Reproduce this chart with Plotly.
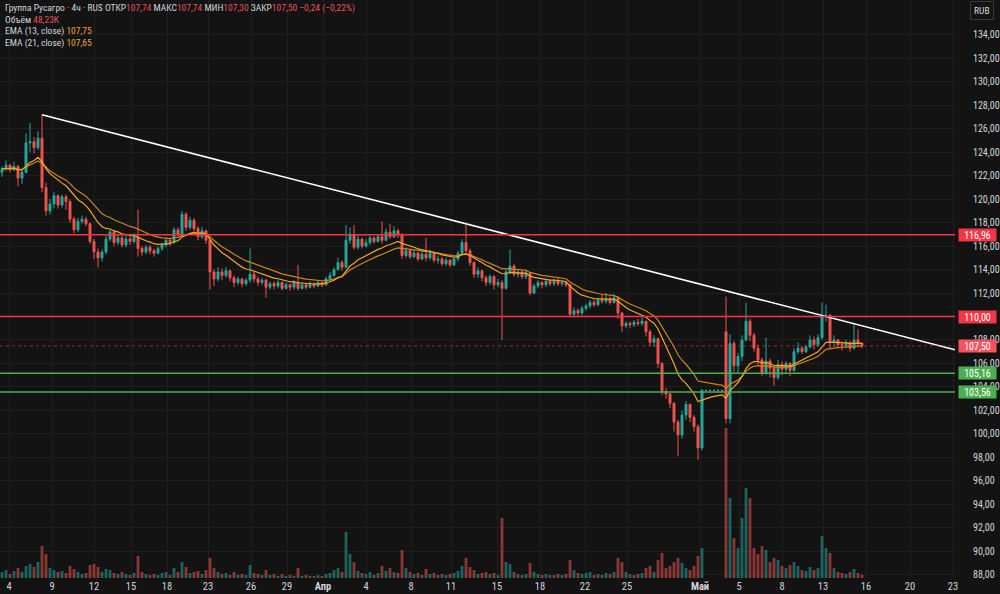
import plotly.graph_objects as go

# ---------------- data (4h candles, Группа Русагро) ----------------
first_open = 122.3
open_gaps = {181: 108.7}

closes = [
    122.6, 122.9, 122.5, 122.8, 121.8, 122.3, 124.8, 124.9, 124.4, 125.2,
    121.0, 119.0, 119.6, 120.3, 119.5, 120.2, 119.8, 118.3, 117.4, 118.1,
    118.3, 117.9, 116.4, 115.5, 115.0, 115.5, 116.6, 117.2, 116.3, 116.7,
    116.1, 116.6, 116.4, 116.8, 115.8, 115.5, 115.9, 115.6, 115.4, 115.8,
    116.1, 116.5, 116.3, 117.4, 117.0, 118.7, 117.6, 118.2, 117.5, 116.8,
    117.3, 116.5, 113.8, 113.2, 113.8, 113.5, 113.9, 113.3, 112.9, 113.2,
    112.8, 113.1, 113.6, 113.2, 112.9, 113.1, 112.5, 112.8, 112.6, 112.9,
    112.4, 112.7, 112.5, 112.9, 112.4, 112.7, 112.5, 112.8, 112.6, 112.9,
    112.7, 113.2, 113.5, 114.0, 114.6, 114.2, 116.5, 117.0, 115.9, 116.6,
    116.0, 116.3, 116.7, 116.4, 116.8, 116.5, 117.2, 116.8, 117.3, 117.0,
    115.2, 115.6, 115.1, 115.4, 114.9, 115.3, 115.0, 115.4, 114.8, 114.9,
    114.5, 114.8, 114.4, 114.9, 115.4, 116.3, 115.6, 114.6, 113.6, 113.9,
    113.3, 112.9, 113.4, 112.7, 112.9, 112.4, 113.8, 114.3, 113.6, 113.8,
    113.4, 113.7, 112.0, 112.6, 112.9, 112.7, 113.0, 112.8, 113.0, 112.8,
    112.9, 112.7, 110.2, 110.5, 110.3, 110.7, 110.9, 111.2, 111.0, 111.4,
    111.3, 111.5, 111.2, 111.6, 110.3, 109.2, 109.4, 109.3, 109.5, 109.4,
    109.6, 108.7, 107.8, 108.1, 106.0, 103.6, 103.4, 102.6, 101.0, 99.9,
    101.6, 102.5, 101.4, 100.6, 98.8, 103.7, 103.7, 103.7, 103.7, 103.7,
    103.7, 101.3, 107.7, 105.8, 106.6, 108.0, 109.6, 108.4, 107.3, 106.3,
    105.2, 106.2, 105.6, 104.8, 105.9, 105.5, 106.0, 105.4, 107.0, 107.3,
    107.0, 107.4, 108.0, 107.6, 108.2, 110.0, 110.1, 107.8, 108.0, 107.6,
    107.5, 107.8, 107.3, 108.0, 107.74, 107.50,
]

highs = [
    122.8, 123.3, 123.0, 123.2, 122.9, 122.5, 125.6, 126.5, 125.3, 125.8,
    127.2, 121.4, 120.0, 120.6, 120.4, 120.4, 120.4, 120.0, 118.5, 118.4,
    118.6, 118.5, 118.0, 116.6, 115.8, 115.7, 116.9, 117.4, 117.4, 117.0,
    116.9, 116.9, 116.9, 117.1, 119.1, 116.0, 116.1, 116.1, 115.8, 116.0,
    116.3, 116.7, 116.7, 117.6, 117.6, 119.0, 118.9, 118.5, 118.4, 117.7,
    117.6, 117.4, 116.6, 114.0, 114.2, 114.1, 114.2, 114.0, 113.5, 113.4,
    113.3, 113.3, 115.8, 113.8, 113.4, 113.3, 113.2, 113.0, 113.0, 113.1,
    113.0, 112.9, 112.8, 113.1, 114.4, 112.9, 112.8, 113.0, 112.9, 113.1,
    113.0, 113.4, 113.8, 114.2, 115.0, 114.8, 117.8, 117.6, 117.8, 116.9,
    116.7, 116.6, 116.9, 116.8, 117.0, 118.1, 117.5, 117.9, 117.7, 117.5,
    117.1, 115.9, 115.8, 115.7, 115.5, 115.6, 116.7, 115.7, 115.5, 115.2,
    115.1, 115.0, 114.9, 115.1, 115.6, 116.6, 117.8, 115.8, 114.7, 114.2,
    114.0, 113.5, 113.6, 113.5, 113.2, 113.1, 114.0, 115.7, 114.5, 114.0,
    113.9, 113.9, 113.8, 112.8, 113.1, 113.0, 113.2, 113.1, 113.2, 113.3,
    113.1, 113.0, 112.8, 110.8, 110.7, 110.9, 111.1, 111.4, 111.4, 111.6,
    111.9, 112.0, 111.7, 111.9, 111.7, 110.4, 109.6, 109.6, 109.7, 109.8,
    109.9, 109.6, 108.9, 108.4, 108.2, 106.1, 103.9, 103.5, 102.7, 101.2,
    102.0, 102.8, 102.6, 101.6, 100.8, 103.8, 103.7, 103.7, 103.7, 103.7,
    103.7, 111.7, 108.5, 107.9, 106.9, 108.4, 111.2, 109.8, 108.6, 107.6,
    106.5, 108.2, 106.4, 105.8, 106.3, 106.2, 106.2, 106.1, 107.3, 107.8,
    107.5, 107.6, 108.4, 108.3, 108.5, 111.2, 111.0, 110.2, 108.4, 108.1,
    107.9, 108.0, 107.9, 109.4, 108.9, 107.74,
]

lows = [
    121.9, 122.4, 122.3, 122.4, 121.1, 121.3, 122.2, 124.0, 123.9, 124.2,
    120.6, 118.6, 118.7, 119.2, 119.2, 119.3, 119.1, 118.0, 117.1, 117.2,
    117.9, 117.7, 116.2, 114.9, 114.2, 114.7, 115.3, 116.4, 116.0, 116.1,
    115.9, 115.9, 116.1, 116.2, 115.1, 115.2, 115.3, 115.3, 115.1, 115.3,
    115.6, 115.9, 116.0, 116.2, 116.8, 116.9, 117.3, 117.4, 117.2, 116.5,
    116.6, 116.2, 112.3, 112.6, 113.0, 113.1, 113.3, 113.0, 112.5, 112.7,
    112.5, 112.6, 112.9, 112.9, 112.6, 112.7, 111.6, 112.3, 112.3, 112.4,
    112.2, 112.3, 112.2, 112.3, 112.2, 112.3, 112.3, 112.4, 112.4, 112.5,
    112.5, 112.6, 113.0, 113.4, 113.9, 113.9, 114.1, 116.2, 115.7, 115.7,
    115.8, 115.9, 116.1, 116.2, 116.3, 116.2, 116.4, 116.6, 116.7, 116.7,
    114.9, 115.0, 114.9, 115.0, 114.7, 114.8, 114.7, 114.8, 114.6, 114.5,
    114.3, 114.3, 114.2, 114.3, 114.7, 115.2, 115.3, 114.3, 113.3, 113.3,
    113.0, 112.6, 112.7, 112.3, 112.5, 108.0, 112.3, 113.6, 113.4, 113.3,
    113.2, 113.2, 111.8, 111.9, 112.4, 112.4, 112.5, 112.6, 112.6, 112.6,
    112.6, 112.5, 110.0, 109.9, 110.0, 110.1, 110.5, 110.7, 110.8, 110.9,
    111.1, 111.1, 111.0, 111.1, 109.8, 108.7, 109.0, 109.0, 109.1, 109.2,
    109.2, 108.3, 107.5, 107.4, 105.6, 103.3, 103.0, 102.2, 100.2, 98.1,
    99.6, 101.2, 101.0, 100.2, 97.8, 98.6, 103.7, 103.7, 103.7, 103.7,
    103.7, 100.9, 100.9, 105.3, 105.2, 106.2, 107.9, 107.9, 107.0, 105.9,
    104.9, 105.0, 104.8, 104.1, 104.6, 105.0, 105.2, 104.9, 105.3, 106.8,
    106.8, 106.9, 107.3, 107.2, 107.4, 108.0, 109.6, 107.2, 107.4, 107.3,
    107.1, 107.3, 107.0, 107.2, 107.4, 107.30,
]

volumes_k = [
    90, 120, 60, 105, 150, 90, 180, 210, 165, 240,
    480, 360, 150, 120, 90, 105, 75, 180, 135, 90,
    60, 75, 195, 210, 165, 90, 135, 120, 75, 60,
    90, 60, 45, 75, 330, 90, 60, 45, 60, 45,
    75, 90, 45, 150, 90, 240, 165, 75, 90, 105,
    60, 120, 300, 150, 90, 60, 75, 45, 90, 45,
    60, 45, 195, 75, 60, 45, 120, 45, 60, 30,
    60, 30, 45, 30, 150, 30, 45, 30, 30, 45,
    30, 60, 75, 120, 150, 90, 690, 360, 240, 105,
    75, 60, 90, 45, 75, 180, 105, 150, 90, 75,
    420, 150, 90, 60, 75, 45, 135, 60, 75, 45,
    60, 45, 60, 75, 105, 180, 300, 165, 120, 60,
    75, 90, 60, 75, 45, 900, 240, 210, 90, 60,
    45, 60, 225, 90, 60, 45, 60, 45, 45, 60,
    45, 60, 270, 120, 75, 60, 75, 90, 45, 60,
    45, 75, 60, 90, 300, 240, 90, 60, 45, 60,
    75, 150, 180, 90, 270, 375, 150, 180, 240, 300,
    225, 150, 120, 180, 330, 450, 0, 0, 0, 0,
    0, 2250, 1200, 600, 450, 900, 1350, 1200, 450, 360,
    480, 420, 240, 300, 270, 180, 150, 195, 240, 180,
    120, 105, 165, 120, 150, 630, 450, 375, 150, 90,
    75, 60, 90, 135, 75, 48.23,
]

tick_pos = [1.75, 12.5, 23, 32.25, 41.25, 51.5, 62.25, 71.25, 80.25, 91, 102.25,
            112.25, 123.75, 134.5, 145.75, 156.25, 174.5, 184.25, 195, 205.25,
            216, 227, 237.75]
tick_text = ["4", "9", "12", "15", "18", "23", "26", "29", "<b>Апр</b>", "4", "8",
             "11", "15", "18", "22", "25", "<b>Май</b>", "5", "8", "13", "16", "20", "23"]

price_ticks = list(range(88, 136, 2))
resist_levels = [116.96, 110.00]
support_levels = [105.16, 103.56]
trend_x = [10, 206]
trend_y = [127.2, 110.0]

# ---------------- derived ----------------
n = len(closes)
xs = list(range(n))
opens = [first_open] + closes[:-1]
for k, v in open_gaps.items():
    opens[k] = v


def ema(vals, period):
    a = 2.0 / (period + 1)
    out = [vals[0]]
    for v in vals[1:]:
        out.append(a * v + (1 - a) * out[-1])
    return out


ema13 = ema(closes, 13)
ema21 = ema(closes, 21)

UP = "#26a69a"
DOWN = "#ef5350"
BG = "#131313"
GRID = "#1f1f1f"
TXT = "#d1d4dc"
FONT = "Liberation Sans Narrow, Arial Narrow, Roboto Condensed, Roboto, sans-serif"

X_MAX = 238.25
Y_RANGE = [87.71, 136.98]

vol_colors = ["rgba(38,166,154,0.55)" if c > o else "rgba(239,83,80,0.55)"
              for o, c in zip(opens, closes)]

fig = go.Figure()
fig.add_trace(go.Bar(x=xs, y=volumes_k, marker=dict(color=vol_colors, line=dict(width=0)),
                     yaxis="y2", hoverinfo="skip", showlegend=False))
fig.add_trace(go.Candlestick(
    x=xs, open=opens, high=highs, low=lows, close=closes,
    increasing=dict(line=dict(color=UP, width=1), fillcolor=UP),
    decreasing=dict(line=dict(color=DOWN, width=1), fillcolor=DOWN),
    whiskerwidth=0, showlegend=False))
fig.add_trace(go.Scatter(x=xs, y=ema21, mode="lines", line=dict(color="#c9861c", width=1.2),
                         showlegend=False, hoverinfo="skip"))
fig.add_trace(go.Scatter(x=xs, y=ema13, mode="lines", line=dict(color="#f5a623", width=1.2),
                         showlegend=False, hoverinfo="skip"))

# trendline through its two anchors, extended to the right edge
slope = (trend_y[1] - trend_y[0]) / (trend_x[1] - trend_x[0])
fig.add_trace(go.Scatter(x=[trend_x[0], X_MAX],
                         y=[trend_y[0], trend_y[0] + slope * (X_MAX - trend_x[0])],
                         mode="lines", line=dict(color="#ffffff", width=1.6),
                         showlegend=False, hoverinfo="skip"))

shapes = []
for lv in resist_levels:
    shapes.append(dict(type="line", xref="paper", x0=0, x1=1, yref="y", y0=lv, y1=lv,
                       line=dict(color="#f23645", width=1.5)))
for lv in support_levels:
    shapes.append(dict(type="line", xref="paper", x0=0, x1=1, yref="y", y0=lv, y1=lv,
                       line=dict(color="#4caf50", width=1.5)))
shapes.append(dict(type="line", xref="paper", x0=0, x1=1, yref="y", y0=closes[-1], y1=closes[-1],
                   line=dict(color="rgba(242,54,69,0.6)", width=1, dash="dot")))


def fmt(v):
    return f"{v:.2f}".replace(".", ",")


annotations = []
for lv, col in [(resist_levels[0], "#f23645"), (resist_levels[1], "#f23645"),
                (closes[-1], "#f7525f"), (support_levels[0], "#4caf50"),
                (support_levels[1], "#4caf50")]:
    annotations.append(dict(xref="paper", x=1, xanchor="left", xshift=3, yref="y", y=lv,
                            yanchor="middle", text=fmt(lv), showarrow=False, bgcolor=col,
                            font=dict(color="#ffffff", size=10, family=FONT),
                            borderpad=0, width=37, height=12))

PH = 578.0
RED = "#e0525b"
ORANGE = "#e8a33a"
lines = [
    f'<span style="color:{TXT}">Группа Русагро · 4ч · RUS ОТКР</span>'
    f'<span style="color:{RED}">{fmt(opens[-1])}</span>'
    f'<span style="color:{TXT}"> МАКС</span><span style="color:{RED}">{fmt(highs[-1])}</span>'
    f'<span style="color:{TXT}"> МИН</span><span style="color:{RED}">{fmt(lows[-1])}</span>'
    f'<span style="color:{TXT}"> ЗАКР</span><span style="color:{RED}">{fmt(closes[-1])}</span>'
    f'<span style="color:{RED}"> −0,24 (−0,22%)</span>',
    f'<span style="color:{TXT}">Объём </span><span style="color:{RED}">48,23K</span>',
    f'<span style="color:{TXT}">EMA (13, close) </span><span style="color:{ORANGE}">107,75</span>',
    f'<span style="color:{TXT}">EMA (21, close) </span><span style="color:{ORANGE}">107,65</span>',
]
for k, t in enumerate(lines):
    annotations.append(dict(xref="paper", x=0, xanchor="left", xshift=3, yref="paper",
                            y=1 - (7.5 + 11.8 * k) / PH, yanchor="middle", text=t,
                            showarrow=False, font=dict(size=9.5, family=FONT, color=TXT)))

annotations.append(dict(xref="paper", x=1, xanchor="left", xshift=15, yref="paper",
                        y=1 - 10 / PH, yanchor="middle", text="RUB", showarrow=False,
                        bordercolor="#3a3a3a", borderwidth=1, borderpad=3, bgcolor=BG,
                        font=dict(size=9.5, family=FONT, color=TXT)))

fig.update_layout(
    width=1000, height=594, autosize=False,
    margin=dict(l=0, r=45, t=0, b=16),
    paper_bgcolor=BG, plot_bgcolor=BG,
    showlegend=False, bargap=0.3,
    xaxis=dict(range=[-0.5, X_MAX], tickvals=tick_pos, ticktext=tick_text,
               showgrid=True, gridcolor=GRID, gridwidth=1, zeroline=False,
               tickfont=dict(color=TXT, size=10.5, family=FONT),
               rangeslider=dict(visible=False), showline=False, ticks=""),
    yaxis=dict(range=Y_RANGE, side="right", tickvals=price_ticks,
               ticktext=["" if v == 110 else fmt(v) for v in price_ticks],
               showgrid=True, gridcolor=GRID,
               zeroline=False, tickfont=dict(color=TXT, size=10, family=FONT),
               ticks="", ticklabelstandoff=17),
    yaxis2=dict(overlaying="y", range=[0, 8670], visible=False, showgrid=False),
    shapes=shapes, annotations=annotations,
)

fig.write_html("out.html", config={"displayModeBar": False},
               post_script="document.body.style.margin='0';")
